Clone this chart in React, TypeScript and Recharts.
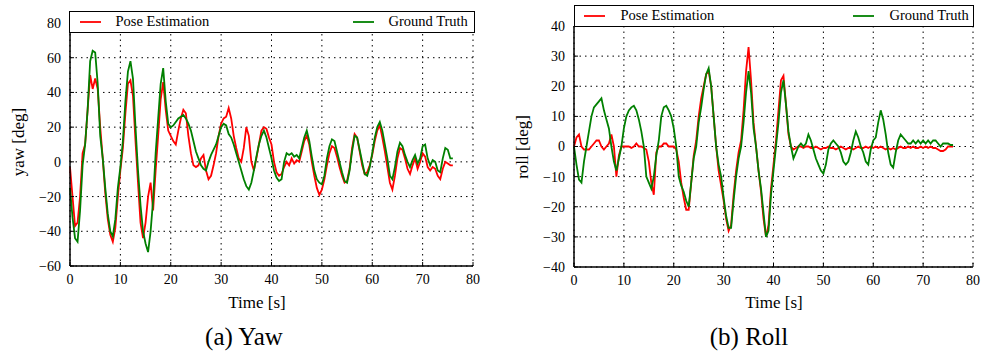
import React from "react";
import {
  LineChart,
  Line,
  XAxis,
  YAxis,
  CartesianGrid,
} from "recharts";

// sample step of the time axis, seconds
const STEP = 0.5;

// Yaw [deg], one value every 0.5 s from 0 to 76 s
const yawPose = [
  -3, -20, -37, -35, -20, 5, 10, 30, 50, 42,
  48, 42, 20, 2, -18, -33, -42, -46, -38, -20,
  -5, 8, 28, 45, 47, 38, 12, -12, -35, -44,
  -35, -20, -12, -28, -5, 15, 36, 46, 30, 18,
  15, 12, 10, 18, 25, 30, 28, 15, 5, -2,
  -3, -2, 2, 4, -5, -10, -8, -2, 5, 15,
  22, 25, 26, 31, 25, 15, 8, 2, 0, 8,
  20, 15, 0, -5, 2, 10, 18, 20, 19, 14,
  10, 0, -6, -8, -7, -3, 0, -2, 2, -1,
  1, 0, 6, 12, 15, 10, 0, -8, -15, -19,
  -16, -10, -2, 5, 9, 8, 3, -3, -8, -12,
  -11, -4, 8, 16, 14, 6, -2, -7, -6, -2,
  4, 12, 18, 21, 14, 6, -3, -12, -16, -8,
  2, 8, 7, 2, -4, -7, -2, 2, -4, 0,
  5, 3, -3, -5, -3, -4, -8, -10, -4, 0,
  -1, -2, -2,
];

const yawTruth = [
  -15, -32, -44, -46, -28, -2, 10, 30, 58, 64,
  63, 45, 15, 2, -15, -30, -40, -43, -33, -15,
  -3, 12, 35, 52, 58, 48, 20, -5, -25, -40,
  -47, -52, -40, -22, 5, 25, 45, 54, 35, 22,
  20, 21, 23, 25, 26, 27, 25, 22, 18, 12,
  6, 2, -2, -4, -5, 0, 4, 7, 10, 15,
  20, 22, 21, 16, 14, 10, 5, 0, -5, -10,
  -14, -16, -12, -5, 3, 10, 15, 18, 14, 8,
  2, -5, -9, -11, -10, 0, 5, 4, 5, 3,
  4, 2, 8, 14, 18, 12, 3, -5, -10, -12,
  -13, -8, 2, 9, 13, 12, 6, 0, -6, -11,
  -12, -5, 6, 15, 14, 7, 0, -7, -8, -3,
  5, 14, 20, 23, 18, 10, 2, -8, -10, -3,
  6, 11, 9, 4, 0, -3, 1, 4, -1, 2,
  9, 10, 2, -2, 1, 0, -5, -6, 2, 8,
  7, 2, 2,
];

// Roll [deg]
const rollPose = [
  0, 3, 4, 0, -1, -1, -1, 0, 1, 2,
  2, 0, -1, 0, 1, 4, 0, -10, -3, 0,
  0, 0, 0, -0.5, 0, 1, 0, 0, -0.5, -1,
  -5, -12, -16, -2, 0, 0, 1, 1, 0, 0,
  0, -1, -5, -12, -17, -21, -21, -12, -3, 2,
  10, 16, 20, 24, 25, 20, 10, 0, -8, -13,
  -18, -24, -28, -26, -16, -8, -2, 2, 12, 25,
  33, 22, 8, 0, -8, -15, -24, -30, -26, -14,
  -6, 2, 12, 22, 23.5, 14, 4, 0, -1, -0.5,
  0, 0, -0.5, 0, 0, -0.5, -0.5, 0, -0.5, -1,
  -0.5, -0.5, 0, -0.5, -0.5, -1, -0.5, 0, -0.5, -1,
  -0.5, -0.5, -1, -0.5, 0, -0.5, -0.5, 0, -0.5, 0,
  -0.5, 0, -0.5, 0, -0.5, -1, -0.5, -1, -0.5, -1,
  -0.5, 0, -0.5, -0.5, 0, -0.5, 0, -0.5, -0.5, 0,
  -0.5, 0, -0.5, 0, -0.5, -0.5, -1, -1.5, -1.5, -1,
  0, 0, 0,
];

const rollTruth = [
  0, -6, -11, -12, -5, 0, 5, 10, 13, 14,
  15, 16, 12, 9, 6, 0, -5, -8, -4, 0,
  6, 10, 12, 13, 13.5, 12, 9, 5, 0, -10,
  -12, -14, -10, -3, 2, 10, 13, 13.5, 12, 10,
  6, 0, -10, -13, -15, -18, -20, -12, -4, 0,
  8, 13, 19, 24, 26, 20, 10, 0, -6, -10,
  -17, -23, -27, -27, -18, -10, -4, 0, 8, 18,
  25, 18, 6, 0, -8, -14, -22, -30, -28, -16,
  -8, 0, 8, 18, 22, 14, 5, 0, -4, -2,
  0, 1, 0, 1, 4, 2, -1, -4, -6, -8,
  -9, -6, -1, 1, 2, 1, 0, -2, -5, -6,
  -5, -2, 2, 5, 3, 0, -2, -5, -6, -1,
  2, 3, 8, 12, 9, 4, -2, -6, -7, -2,
  2, 4, 3, 2, 1, 1, 2, 1, 2, 1,
  2, 1, 2, 1, 2, 2, 1, 0, 1, 1,
  1, 0.5, 0.5,
];

const timeTicks = [0, 10, 20, 30, 40, 50, 60, 70, 80];
const yawTicks = [-60, -40, -20, 0, 20, 40, 60, 80];
const rollTicks = [-40, -30, -20, -10, 0, 10, 20, 30, 40];

const toRows = (pose: number[], truth: number[]) =>
  pose.map((pe, i) => ({ t: i * STEP, pe, gt: truth[i] }));

const yawData = toRows(yawPose, yawTruth);
const rollData = toRows(rollPose, rollTruth);

const fmt = (v: number) => (v < 0 ? `\u2212${-v}` : `${v}`);

const FONT = "'Liberation Serif', 'Times New Roman', serif";
const tickStyle = { fontSize: 14, fill: "#000", fontFamily: FONT };
const frame = { stroke: "#000", strokeWidth: 1.5 };
const tickStroke = { stroke: "#000", strokeWidth: 1 };

type PanelProps = {
  data: { t: number; pe: number; gt: number }[];
  yTicks: number[];
  width: number;
  margin: { top: number; right: number; bottom: number; left: number };
};

const Panel = ({ data, yTicks, width, margin }: PanelProps) => (
  <LineChart width={width} height={300} data={data} margin={margin}>
    <CartesianGrid
      stroke="#000"
      strokeWidth={1}
      strokeDasharray="1.5 4"
      xAxisId="bottom"
      yAxisId="left"
    />
    <XAxis
      xAxisId="bottom"
      dataKey="t"
      type="number"
      domain={[0, 80]}
      ticks={timeTicks}
      interval={0}
      height={30}
      tickSize={-4}
      tickMargin={12}
      axisLine={frame}
      tickLine={tickStroke}
      tick={tickStyle}
    />
    <XAxis
      xAxisId="top"
      orientation="top"
      dataKey="t"
      type="number"
      domain={[0, 80]}
      ticks={timeTicks}
      interval={0}
      height={0}
      tickSize={-4}
      axisLine={frame}
      tickLine={tickStroke}
      tick={false}
    />
    <YAxis
      yAxisId="left"
      type="number"
      domain={[yTicks[0], yTicks[yTicks.length - 1]]}
      ticks={yTicks}
      interval={0}
      width={60}
      tickSize={-4}
      tickMargin={13}
      axisLine={frame}
      tickLine={tickStroke}
      tick={tickStyle}
      tickFormatter={fmt}
    />
    <YAxis
      yAxisId="right"
      orientation="right"
      type="number"
      domain={[yTicks[0], yTicks[yTicks.length - 1]]}
      ticks={yTicks}
      interval={0}
      width={0}
      tickSize={-4}
      axisLine={frame}
      tickLine={tickStroke}
      tick={false}
    />
    <Line
      xAxisId="bottom"
      yAxisId="left"
      dataKey="pe"
      type="linear"
      stroke="#ff0000"
      strokeWidth={1.8}
      dot={false}
      isAnimationActive={false}
    />
    <Line
      xAxisId="bottom"
      yAxisId="left"
      dataKey="gt"
      type="linear"
      stroke="#008000"
      strokeWidth={1.8}
      dot={false}
      isAnimationActive={false}
    />
  </LineChart>
);

const abs = (left: number, top: number): React.CSSProperties => ({
  position: "absolute",
  left,
  top,
});

const LegendBox = ({
  left,
  top,
  width,
  height,
  redX,
  redText,
  greenX,
  greenText,
}: {
  left: number;
  top: number;
  width: number;
  height: number;
  redX: number;
  redText: number;
  greenX: number;
  greenText: number;
}) => (
  <div
    style={{
      ...abs(left, top),
      width,
      height,
      boxSizing: "border-box",
      border: "1.5px solid #000",
      background: "#fff",
      fontSize: 14.5,
    }}
  >
    <svg width={width} height={height} style={{ position: "absolute", left: -1.5, top: -1.5 }}>
      <line x1={redX - left} x2={redX - left + 21} y1={height / 2} y2={height / 2} stroke="#ff0000" strokeWidth={1.8} />
      <line x1={greenX - left} x2={greenX - left + 21} y1={height / 2} y2={height / 2} stroke="#008000" strokeWidth={1.8} />
    </svg>
    <span style={{ position: "absolute", left: redText - left - 1.5, top: 0, lineHeight: `${height - 3}px` }}>
      Pose Estimation
    </span>
    <span style={{ position: "absolute", left: greenText - left - 1.5, top: 0, lineHeight: `${height - 3}px` }}>
      Ground Truth
    </span>
  </div>
);

const centered = (x: number, y: number, size: number, rotate = false): React.CSSProperties => ({
  position: "absolute",
  left: x,
  top: y,
  fontSize: size,
  whiteSpace: "nowrap",
  lineHeight: 1,
  transform: `translate(-50%, -50%)${rotate ? " rotate(-90deg)" : ""}`,
});

export default function App() {
  return (
    <div
      style={{
        position: "absolute",
        left: 0,
        top: 0,
        width: 982,
        height: 351,
        background: "#fff",
        fontFamily: FONT,
        color: "#000",
        overflow: "hidden",
      }}
    >
      <div style={abs(0, 0)}>
        <Panel
          data={yawData}
          yTicks={yawTicks}
          width={490}
          margin={{ top: 23, right: 17, bottom: 4, left: 10 }}
        />
      </div>
      <div style={abs(490, 0)}>
        <Panel
          data={rollData}
          yTicks={rollTicks}
          width={492}
          margin={{ top: 26, right: 9, bottom: 3, left: 24 }}
        />
      </div>

      <LegendBox left={69} top={11} width={406} height={22} redX={80} redText={116} greenX={353} greenText={389} />
      <LegendBox left={574} top={5} width={400} height={22} redX={584} redText={621} greenX={853} greenText={890} />

      <div style={centered(18, 142, 17, true)}>yaw [deg]</div>
      <div style={centered(522, 147, 17, true)}>roll [deg]</div>
      <div style={centered(257, 302, 17)}>Time [s]</div>
      <div style={centered(774, 302, 17)}>Time [s]</div>
      <div style={centered(244, 336, 25)}>(a) Yaw</div>
      <div style={centered(749, 336, 25)}>(b) Roll</div>
    </div>
  );
}
